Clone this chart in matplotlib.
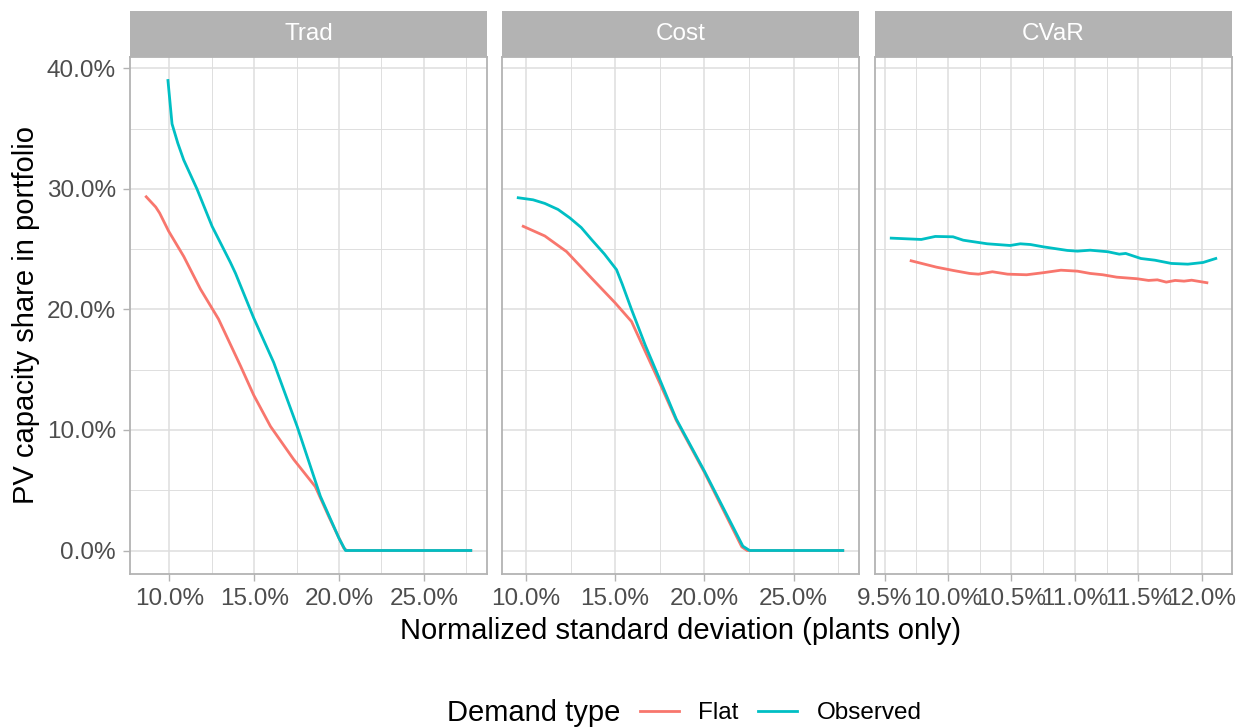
import matplotlib
matplotlib.use("Agg")
import matplotlib.pyplot as plt
from matplotlib.lines import Line2D
from matplotlib.ticker import MultipleLocator, AutoMinorLocator, FuncFormatter

plt.rcParams["font.family"] = ["Liberation Sans", "DejaVu Sans"]

# values in percent
panels = ["Trad", "Cost", "CVaR"]
groups = ["Flat", "Observed"]
colors = {"Flat": "#F8766D", "Observed": "#00BFC4"}

trad_flat_x = [8.64, 9.20, 9.43, 9.96, 10.85, 11.83, 12.90, 14.20, 14.97, 15.96,
               17.33, 18.60, 19.40, 20.28, 20.45, 27.76]
trad_flat_y = [29.35, 28.5, 28.0, 26.5, 24.4, 21.7, 19.2, 15.3, 12.9, 10.3,
               7.55, 5.3, 2.8, 0.2, 0.0, 0.0]
trad_obs_x = [9.92, 10.16, 10.50, 10.85, 11.63, 12.52, 13.60, 13.90, 14.97, 16.15,
              17.53, 18.90, 20.0, 20.38, 27.76]
trad_obs_y = [39.0, 35.4, 33.8, 32.4, 30.0, 26.9, 23.9, 23.0, 19.3, 15.6,
              10.3, 4.5, 1.0, 0.0, 0.0]

cost_flat_x = [9.85, 11.06, 12.28, 13.68, 15.00, 15.92, 17.50, 18.43, 20.0, 22.10,
               22.40, 27.76]
cost_flat_y = [26.9, 26.1, 24.8, 22.6, 20.55, 19.0, 13.9, 10.8, 6.5, 0.3,
               0.0, 0.0]
cost_obs_x = [9.57, 10.40, 11.06, 11.80, 12.46, 13.10, 13.68, 14.40, 15.08, 15.40,
              15.92, 16.70, 17.50, 18.43, 20.0, 22.16, 22.54, 27.76]
cost_obs_y = [29.27, 29.1, 28.8, 28.3, 27.6, 26.8, 25.8, 24.6, 23.3, 22.1,
              20.0, 17.0, 14.2, 10.9, 6.6, 0.36, 0.0, 0.0]

cvar_flat_x = [9.71, 9.91, 10.04, 10.17, 10.24, 10.35, 10.47, 10.62, 10.75, 10.89,
               11.02, 11.12, 11.22, 11.33, 11.49, 11.58, 11.65, 11.72, 11.79, 11.86,
               11.92, 12.04]
cvar_flat_y = [24.04, 23.51, 23.24, 22.99, 22.93, 23.13, 22.93, 22.88, 23.05, 23.26,
               23.18, 22.99, 22.88, 22.68, 22.55, 22.41, 22.46, 22.27, 22.41, 22.35,
               22.43, 22.22]
cvar_obs_x = [9.553, 9.79, 9.90, 10.04, 10.12, 10.17, 10.31, 10.49, 10.57, 10.65,
              10.75, 10.94, 11.02, 11.12, 11.26, 11.35, 11.40, 11.52, 11.63, 11.76,
              11.89, 12.01, 12.11]
cvar_obs_y = [25.92, 25.81, 26.06, 26.03, 25.75, 25.67, 25.45, 25.31, 25.45, 25.39,
              25.2, 24.9, 24.84, 24.92, 24.79, 24.59, 24.65, 24.23, 24.09, 23.82,
              23.76, 23.9, 24.23]

series = {
    "Trad": {"Flat": (trad_flat_x, trad_flat_y), "Observed": (trad_obs_x, trad_obs_y)},
    "Cost": {"Flat": (cost_flat_x, cost_flat_y), "Observed": (cost_obs_x, cost_obs_y)},
    "CVaR": {"Flat": (cvar_flat_x, cvar_flat_y), "Observed": (cvar_obs_x, cvar_obs_y)},
}
x_steps = {"Trad": 5, "Cost": 5, "CVaR": 0.5}

W, H = 1242, 728
panel_left = [130, 502, 875]
panel_w = 357
panel_top, panel_bottom = 57, 574
strip_top = 11

grid_col = "#DEDEDE"
frame_col = "#B3B3B3"
text_col = "#4D4D4D"

fig = plt.figure(figsize=(W / 100, H / 100), dpi=100)

all_y = [v for p in panels for g in groups for v in series[p][g][1]]
y_lo, y_hi = min(all_y), max(all_y)
y_pad = 0.05 * (y_hi - y_lo)

pct = FuncFormatter(lambda v, _: f"{v:.1f}%")

for i, name in enumerate(panels):
    left = panel_left[i]
    ax = fig.add_axes([left / W, 1 - panel_bottom / H,
                       panel_w / W, (panel_bottom - panel_top) / H])
    xs = [v for g in groups for v in series[name][g][0]]
    x_pad = 0.05 * (max(xs) - min(xs))
    for g in groups:
        x, y = series[name][g]
        ax.plot(x, y, color=colors[g], lw=2.0, solid_joinstyle="round", zorder=3)
    ax.set_xlim(min(xs) - x_pad, max(xs) + x_pad)
    ax.set_ylim(y_lo - y_pad, y_hi + y_pad)

    ax.xaxis.set_major_locator(MultipleLocator(x_steps[name]))
    ax.xaxis.set_minor_locator(AutoMinorLocator(2))
    ax.yaxis.set_major_locator(MultipleLocator(10))
    ax.yaxis.set_minor_locator(AutoMinorLocator(2))
    ax.xaxis.set_major_formatter(pct)
    ax.yaxis.set_major_formatter(pct)
    ax.grid(which="major", color=grid_col, lw=1.1, zorder=0)
    ax.grid(which="minor", color=grid_col, lw=0.7, zorder=0)
    ax.set_axisbelow(True)
    for s in ax.spines.values():
        s.set_color(frame_col)
        s.set_linewidth(1.3)
    ax.tick_params(which="major", length=5, width=1.0, color=frame_col,
                   labelsize=17.5, labelcolor=text_col, pad=5)
    ax.tick_params(which="minor", length=0)
    if i > 0:
        ax.tick_params(axis="y", which="both", left=False, labelleft=False)

    # facet strip
    sax = fig.add_axes([left / W, 1 - panel_top / H,
                        panel_w / W, (panel_top - strip_top) / H])
    sax.set_facecolor(frame_col)
    sax.set_xticks([])
    sax.set_yticks([])
    for s in sax.spines.values():
        s.set_visible(False)
    sax.text(0.5, 0.5, name, ha="center", va="center", color="white",
             fontsize=17.5, transform=sax.transAxes)

fig.text(681 / W, 1 - 631 / H, "Normalized standard deviation (plants only)",
         ha="center", va="center", fontsize=21)
fig.text(26 / W, 1 - 315 / H, "PV capacity share in portfolio",
         ha="center", va="center", rotation=90, fontsize=21)

handles = [Line2D([], [], color=colors[g], lw=2.0) for g in groups]
fig.text(447 / W, 1 - 713 / H, "Demand type", ha="left", va="center", fontsize=21)
fig.legend(handles, groups, loc="center left", bbox_to_anchor=(640 / W, 1 - 713 / H),
           ncol=2, frameon=False, fontsize=17.5, handlelength=1.6, handletextpad=0.8,
           columnspacing=0.8, borderpad=0, borderaxespad=0)

fig.savefig("out.png", dpi=100)
